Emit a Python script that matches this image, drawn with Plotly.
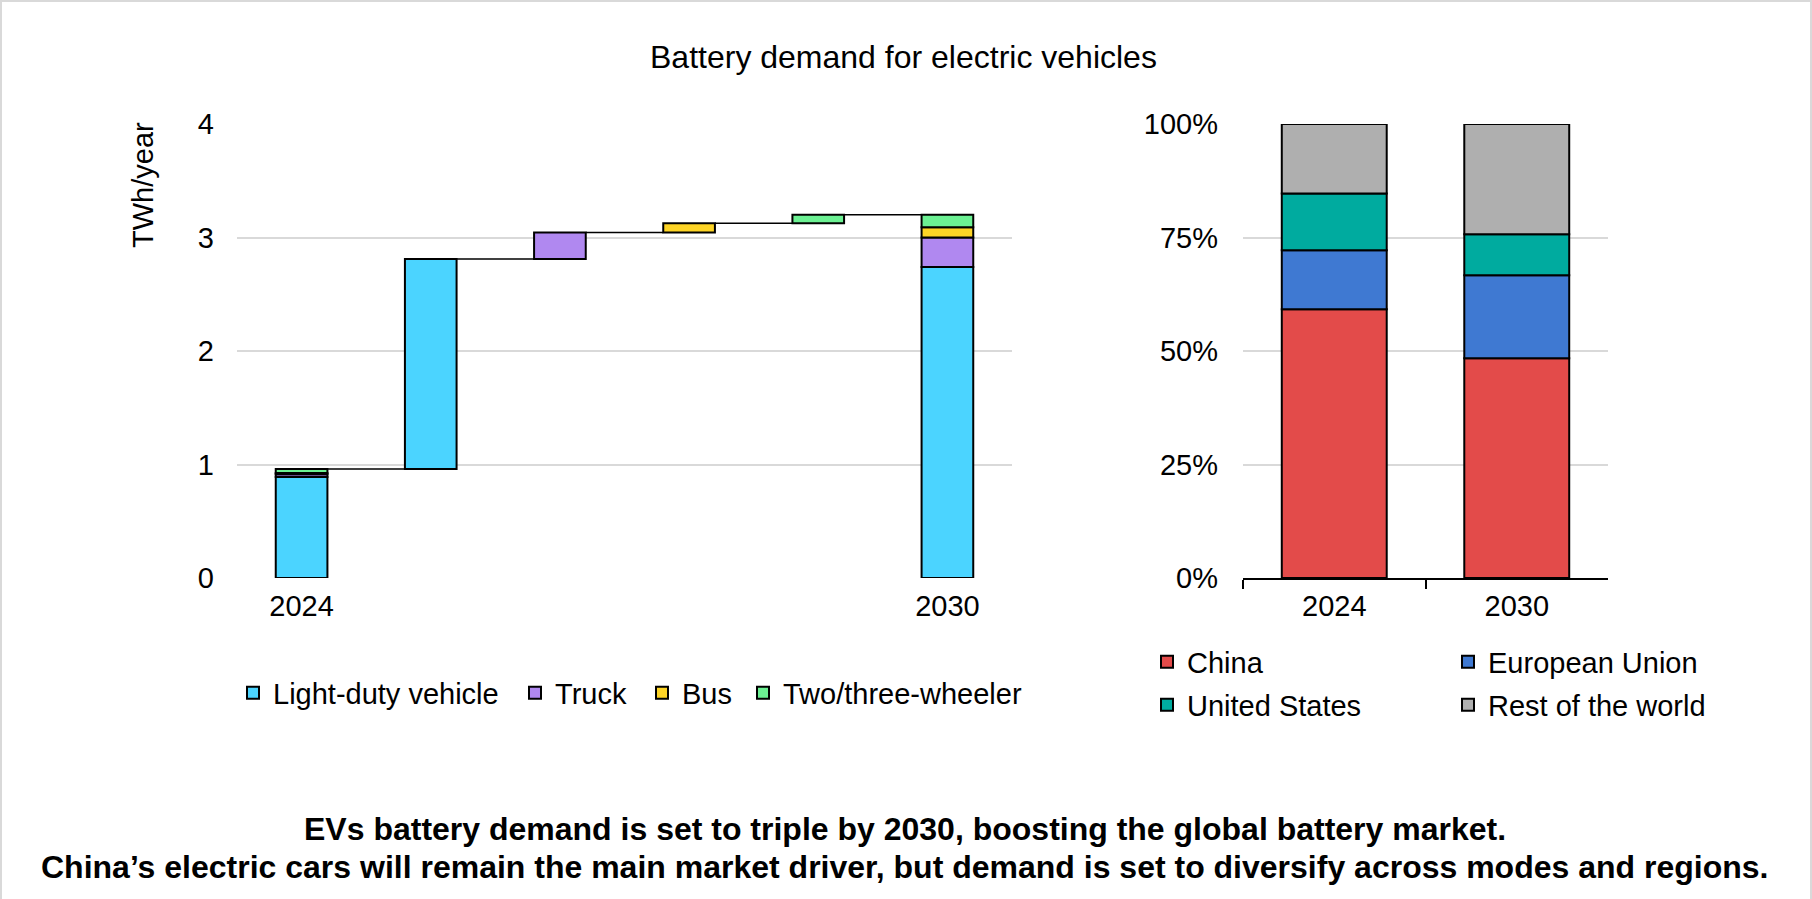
import plotly.graph_objects as go

# ---------------- data ----------------
modes = ["Light-duty vehicle", "Truck", "Bus", "Two/three-wheeler"]
mode_colors = ["#4BD4FF", "#B088F0", "#FDD426", "#6CF193"]
demand_2024 = [0.89, 0.025, 0.01, 0.035]   # TWh/year
demand_2030 = [2.74, 0.26, 0.09, 0.11]     # TWh/year
left_ticks = ["2024", "2030"]

regions = ["China", "European Union", "United States", "Rest of the world"]
region_colors = ["#E34B4A", "#3F79D2", "#00AB9F", "#AFAFAF"]
share_years = ["2024", "2030"]
share_2024 = [0.592, 0.130, 0.125, 0.153]
share_2030 = [0.484, 0.183, 0.090, 0.243]

W, H = 1812, 899
FONT = "Liberation Sans, Arial, sans-serif"
FS = 29

def px_x(p):
    return p / W

def px_y(p):
    return 1 - p / H

fig = go.Figure()

# legend placement (pixel positions of each legend box)
mode_legend_x = [233, 515, 642, 743]
mode_legend_y = 693
region_legend_xy = [(1147, 662), (1448, 662), (1147, 705), (1448, 705)]

# ---------------- left: waterfall built from stacked bars ----------------
n_steps = len(modes)
x_start, x_end = 0, n_steps + 1
increments = [b - a for a, b in zip(demand_2024, demand_2030)]

levels = [sum(demand_2024)]
for inc in increments:
    levels.append(levels[-1] + inc)

BW_L = 0.4
legend_layout = {}
for i, (m, c) in enumerate(zip(modes, mode_colors)):
    xs = [x_start, i + 1, x_end]
    ys = [demand_2024[i], increments[i], demand_2030[i]]
    bases = [sum(demand_2024[:i]), levels[i], sum(demand_2030[:i])]
    lname = "legend" if i == 0 else f"legend{i + 1}"
    fig.add_trace(go.Bar(
        x=xs, y=ys, base=bases, name=m, width=BW_L,
        marker=dict(color=c, line=dict(color="black", width=2)),
        xaxis="x", yaxis="y", legend=lname, showlegend=True,
        hoverinfo="skip",
    ))
    legend_layout[lname] = dict(
        orientation="h", x=px_x(mode_legend_x[i]), xanchor="left",
        y=px_y(mode_legend_y), yanchor="middle",
        font=dict(size=FS), bgcolor="rgba(0,0,0,0)", itemclick=False,
    )

# connectors
cx, cy = [], []
for i in range(len(levels)):
    cx += [i + BW_L / 2, i + 1 - BW_L / 2, None]
    cy += [levels[i], levels[i], None]
fig.add_trace(go.Scatter(
    x=cx, y=cy, mode="lines", line=dict(color="black", width=1.5),
    showlegend=False, hoverinfo="skip", xaxis="x", yaxis="y",
))

# ---------------- right: 100% stacked bars ----------------
shares = [share_2024, share_2030]
for j, (r, c) in enumerate(zip(regions, region_colors)):
    ys = [s[j] for s in shares]
    bases = [sum(s[:j]) for s in shares]
    lname = f"legend{n_steps + 1 + j}"
    fig.add_trace(go.Bar(
        x=share_years, y=ys, base=bases, name=r, width=0.575,
        marker=dict(color=c, line=dict(color="black", width=2)),
        xaxis="x2", yaxis="y2", legend=lname, showlegend=True,
        hoverinfo="skip",
    ))
    lx, ly = region_legend_xy[j]
    legend_layout[lname] = dict(
        orientation="h", x=px_x(lx), xanchor="left",
        y=px_y(ly), yanchor="middle",
        font=dict(size=FS), bgcolor="rgba(0,0,0,0)", itemclick=False,
    )

y_dom = [px_y(578), px_y(124)]

fig.update_layout(
    width=W, height=H,
    margin=dict(l=0, r=0, t=0, b=0, autoexpand=False),
    paper_bgcolor="white", plot_bgcolor="white",
    barmode="overlay",
    font=dict(family=FONT, size=FS, color="black"),
    xaxis=dict(
        domain=[px_x(237), px_x(1012)], range=[-0.5, n_steps + 1.5],
        tickvals=[x_start, x_end], ticktext=left_ticks,
        showgrid=False, zeroline=False, showline=False, ticks="",
        ticklabelstandoff=8, anchor="y",
    ),
    yaxis=dict(
        domain=y_dom, range=[0, 4], tickvals=[0, 1, 2, 3, 4],
        showgrid=True, gridcolor="#D9D9D9", gridwidth=1.5,
        zeroline=False, showline=False, ticks="",
        ticklabelstandoff=22, anchor="x",
    ),
    xaxis2=dict(
        domain=[px_x(1243), px_x(1608)], type="category",
        showgrid=False, zeroline=False, showline=True, linecolor="black", linewidth=1.5,
        ticks="outside", tickson="boundaries", ticklen=9, tickcolor="black", tickwidth=1.5,
        ticklabelstandoff=1, anchor="y2",
    ),
    yaxis2=dict(
        domain=y_dom, range=[0, 1], tickvals=[0, 0.25, 0.5, 0.75, 1],
        tickformat=".0%",
        showgrid=True, gridcolor="#D9D9D9", gridwidth=1.5,
        zeroline=False, showline=False, ticks="",
        ticklabelstandoff=24, anchor="x2",
    ),
    annotations=[
        dict(text="Battery demand for electric vehicles", x=px_x(903), y=px_y(57),
             xref="paper", yref="paper", showarrow=False, font=dict(size=32),
             xanchor="center", yanchor="middle"),
        dict(text="TWh/year", x=px_x(143), y=px_y(185), xref="paper", yref="paper",
             showarrow=False, textangle=-90, font=dict(size=FS),
             xanchor="center", yanchor="middle"),
        dict(text="<b>EVs battery demand is set to triple by 2030, boosting the global battery market.</b>",
             x=px_x(905), y=px_y(829), xref="paper", yref="paper", showarrow=False,
             font=dict(size=32), xanchor="center", yanchor="middle"),
        dict(text="<b>China\u2019s electric cars will remain the main market driver, but demand is set to diversify across modes and regions.</b>",
             x=px_x(904), y=px_y(867), xref="paper", yref="paper", showarrow=False,
             font=dict(size=32), xanchor="center", yanchor="middle"),
    ],
    shapes=[
        dict(type="rect", xref="paper", yref="paper", x0=px_x(1), x1=px_x(1811),
             y0=-0.02, y1=px_y(1), line=dict(color="#D9D9D9", width=2), fillcolor="rgba(0,0,0,0)"),
    ],
    **legend_layout,
)

fig.write_html("out.html")
